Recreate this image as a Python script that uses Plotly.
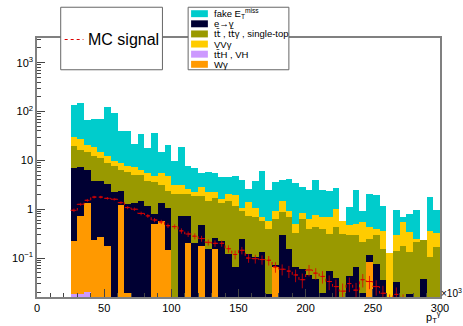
import math
import plotly.graph_objects as go

# ---------------- data ----------------
bin_edges = list(range(25, 305, 5))          # 55 bins of 5 (x10^3)
bin_centers = [(a + b) / 2 for a, b in zip(bin_edges[:-1], bin_edges[1:])]

fake_met = [105, 121, 45.5, 50, 54, 114, 84.5, 30.2, 31.5, 14.8,
            27.6, 12.1, 31.8, 9.5, 16.3, 6.6, 15.9, 5.1, 4.7, 2.7,
            3.6, 3.2, 2.95, 2.55, 2.7, 2.92, 1.2, 2.62, 5.4, 1.94,
            2.67, 2.5, 3.17, 3.0, 2.08, 1.87, 3.13, 1.82, 1.67, 1.74,
            0, 0.64, 1.94, 0.36, 1.64, 1.55, 0.805, 0, 0.67, 0.14,
            0.46, 0.70, 0, 1.405, 0.63]
vv_gamma = [10, 11.7, 5.5, 6.7, 4.0, 3.5, 2.0, 2.4, 1.6, 2.1,
            1.5, 1.65, 1.1, 2.3, 2.35, 1.2, 1.1, 0.6, 0.34, 0.94,
            0.83, 0.58, 0.29, 0.58, 0.83, 0.15, 0.67, 0.40, 0.12, 0.17,
            0.30, 0.64, 0.25, 0.17, 0.19, 0.24, 0.34, 0.29, 0.37, 0.56,
            0.27, 0.18, 0.21, 0.33, 0.18, 0.10, 0.215, 0.127, 0.15, 0.36,
            0.207, 0.04, 0, 0.259, 0.15]
ttbar = [13.1, 9.1, 8.6, 8.6, 7.3, 5.5, 5.3, 4.0, 4.64, 3.74,
         3.43, 2.68, 2.81, 1.84, 1.27, 2.0, 1.28, 1.26, 1.66, 1.39,
         1.315, 1.46, 1.14, 1.35, 1.10, 0.68, 0.61, 0.575, 0.45, 0.372,
         0.558, 0.57, 0.525, 0.264, 0.569, 0.345, 0.393, 0.371, 0.257, 0.401,
         0.31, 0.257, 0.226, 0.191, 0.136, 0.226, 0.114, 0, 0.108, 0.18,
         0.115, 0.21, 0.193, 0.106, 0.17]
e_to_gamma = [6.67, 6.47, 5.04, 3.47, 3.43, 3.12, 2.2, 1.2, 1.24, 1.36,
              1.47, 1.17, 0.29, 0.78, 0.935, 0, 0.72, 0.54, 0.20, 0.29,
              0.155, 0.11, 0.22, 0.12, 0.066, 0.25, 0.12, 0.105, 0.13, 0.018,
              0.006, 0.29, 0.155, 0.066, 0.061, 0.045, 0.037, 0.019, 0.053, 0.039,
              0, 0.043, 0.064, 0.019, 0.03, 0.074, 0.036, 0, 0.032, 0,
              0.018, 0, 0.037, 0, 0]
w_gamma = [0.21, 0.71, 1.34, 0.23, 0.27, 0.18, 0, 1.2, 0.019, 0,
           0, 0, 0.5, 0.58, 0.145, 0, 0, 0.2, 0, 0.18,
           0, 0.15, 0, 0, 0, 0, 0, 0, 0, 0,
           0.066, 0, 0, 0, 0, 0, 0, 0, 0, 0,
           0, 0, 0, 0, 0.084, 0, 0, 0, 0, 0,
           0, 0, 0, 0, 0]
tth_vh = [0.0185, 0.0185, 0.020] + [0] * 52

mc_signal = [0.95, 1.26, 1.52, 1.77, 1.77, 1.67, 1.6, 1.36, 1.08, 1.0,
             0.82, 0.73, 0.60, 0.55, 0.46, 0.44, 0.36, 0.31, 0.28, 0.25,
             0.21, 0.20, 0.20, 0.155, 0.118, 0.144, 0.10, 0.097, 0.093, 0.09,
             0.066, 0.059, 0.054, 0.045, 0.036, 0.057, 0.049, 0.042, 0.033, 0.026,
             0.021, 0.03, 0.022, 0.036, 0.033, 0.026, 0.019, 0.012, 0.018, 0.012,
             0.01, 0.01, 0.01, 0.01, 0.01]
mc_signal_err = [0.08, 0.09, 0.10, 0.11, 0.11, 0.10, 0.10, 0.09, 0.08, 0.08,
                 0.07, 0.065, 0.06, 0.055, 0.05, 0.05, 0.045, 0.04, 0.04, 0.035,
                 0.03, 0.03, 0.03, 0.027, 0.024, 0.025, 0.02, 0.02, 0.02, 0.02,
                 0.016, 0.015, 0.015, 0.013, 0.012, 0.015, 0.013, 0.012, 0.011, 0.01,
                 0.009, 0.01, 0.009, 0.011, 0.01, 0.009, 0.008, 0.006, 0.007, 0.006,
                 0.005, 0.005, 0.005, 0.005, 0.005]

TBAR = "<span style='font-family:DejaVu Sans'>t\u0304</span>"
legend_labels = ["fake E<sub>T</sub><sup>miss</sup>", "e\u2192\u03b3",
                 "t" + TBAR + " , t" + TBAR + "\u03b3 , single-top", "VV\u03b3",
                 "t" + TBAR + "H , VH", "W\u03b3"]
x_ticks = [0, 50, 100, 150, 200, 250, 300]
y_ticks = [0.1, 1, 10, 100, 1000]
y_ticktext = ["10<sup>\u22121</sup>", "1", "10", "10<sup>2</sup>", "10<sup>3</sup>"]

# ---------------- style ----------------
C_FAKE, C_EG, C_TT, C_VV, C_TTH, C_WG = "#00CCCC", "#000033", "#999900", "#FFCC00", "#CC99FF", "#FF9900"
C_SIG = "#DD0000"
FONT = "Liberation Sans, Arial, Helvetica, sans-serif"
W, H = 463, 326
L, R, T, B = 32, 23, 38, 27
FRAME = "#808080"


def px_x(p):
    return (p - L) / (W - L - R)


def px_y(p):
    return (H - B - p) / (H - T - B)


fig = go.Figure()
stack = [(tth_vh, C_TTH, legend_labels[4]), (w_gamma, C_WG, legend_labels[5]),
         (e_to_gamma, C_EG, legend_labels[1]), (ttbar, C_TT, legend_labels[2]),
         (vv_gamma, C_VV, legend_labels[3]), (fake_met, C_FAKE, legend_labels[0])]
for vals, col, name in stack:
    fig.add_trace(go.Bar(x=bin_centers, y=vals, width=5, name=name,
                         marker=dict(color=col, line=dict(width=0)),
                         showlegend=False))

# signal: dotted step histogram + error bars
fig.add_trace(go.Scatter(x=bin_edges, y=mc_signal + [mc_signal[-1]], mode="lines",
                         line=dict(shape="hv", color=C_SIG, width=1, dash="dot"),
                         showlegend=False, hoverinfo="skip"))
fig.add_trace(go.Scatter(x=bin_centers, y=mc_signal, mode="markers",
                         marker=dict(symbol="line-ew", size=3, color=C_SIG,
                                     line=dict(width=1, color=C_SIG)),
                         error_y=dict(type="data", array=mc_signal_err, color=C_SIG,
                                      thickness=0.8, width=0),
                         showlegend=False))
# minor-tick carrier axis
fig.add_trace(go.Scatter(x=[], y=[], yaxis="y2", showlegend=False))

y_range = [-1.798, 3.505]
minor_y = [m * 10 ** k for k in range(-2, 4) for m in range(2, 10)
           if y_range[0] <= math.log10(m * 10 ** k) <= y_range[1]]

fig.update_layout(
    width=W, height=H, margin=dict(l=L, r=R, t=T, b=B),
    paper_bgcolor="white", plot_bgcolor="white",
    barmode="stack", bargap=0,
    font=dict(family=FONT, color="black"),
    xaxis=dict(range=[0, 300], tickvals=x_ticks, ticks="inside", ticklen=8,
               tickcolor="#444", showline=True, mirror=True, linecolor=FRAME,
               linewidth=1.5, showgrid=False, zeroline=False,
               tickfont=dict(size=11, family=FONT),
               minor=dict(dtick=10, ticks="inside", ticklen=4, tickcolor="#444", showgrid=False)),
    yaxis=dict(type="log", range=y_range, tickvals=y_ticks, ticktext=y_ticktext,
               ticks="inside", ticklen=8, tickcolor="#444", showline=True, mirror=True,
               linecolor=FRAME, linewidth=1.5, showgrid=False, zeroline=False,
               tickfont=dict(size=11, family=FONT)),
    yaxis2=dict(type="log", range=y_range, overlaying="y", anchor="x", side="left",
                tickvals=minor_y, ticks="inside", ticklen=4, tickcolor="#444",
                showticklabels=False, showline=False, showgrid=False, zeroline=False),
)

shapes = []
ann = []
# legend box 1 (MC signal)
shapes.append(dict(type="rect", xref="paper", yref="paper", x0=px_x(56), x1=px_x(159),
                   y0=px_y(70), y1=px_y(7), fillcolor="white", line=dict(color="#666", width=1)))
shapes.append(dict(type="line", xref="paper", yref="paper", x0=px_x(60), x1=px_x(79),
                   y0=px_y(39.5), y1=px_y(39.5), line=dict(color=C_SIG, width=1.2, dash="dot")))
ann.append(dict(x=px_x(82), y=px_y(39.5), xref="paper", yref="paper", text="MC signal",
                showarrow=False, xanchor="left", yanchor="middle",
                font=dict(size=16, family=FONT, color="black")))
# legend box 2 (backgrounds)
shapes.append(dict(type="rect", xref="paper", yref="paper", x0=px_x(185), x1=px_x(287),
                   y0=px_y(70), y1=px_y(7), fillcolor="white", line=dict(color="#666", width=1)))
leg_cols = [C_FAKE, C_EG, C_TT, C_VV, C_TTH, C_WG]
for k, (lab, col) in enumerate(zip(legend_labels, leg_cols)):
    yc = 13.5 + k * 10.2
    shapes.append(dict(type="rect", xref="paper", yref="paper", x0=px_x(188), x1=px_x(205),
                       y0=px_y(yc + 3.5), y1=px_y(yc - 3.5), fillcolor=col, line=dict(width=0)))
    ann.append(dict(x=px_x(209), y=px_y(yc), xref="paper", yref="paper", text=lab,
                    showarrow=False, xanchor="left", yanchor="middle",
                    font=dict(size=9.5, family=FONT, color="black")))
# axis extras
ann.append(dict(x=px_x(439), y=px_y(295), xref="paper", yref="paper", text="\u00d710<sup>3</sup>",
                showarrow=False, xanchor="left", yanchor="middle",
                font=dict(size=10, family=FONT, color="black")))
ann.append(dict(x=px_x(443), y=px_y(319), xref="paper", yref="paper",
                text="p<sub>T</sub><sup>\u03b3</sup>", showarrow=False, xanchor="right",
                yanchor="middle", font=dict(size=11, family=FONT, color="black")))
fig.update_layout(shapes=shapes, annotations=ann)

fig.write_html("out.html")
